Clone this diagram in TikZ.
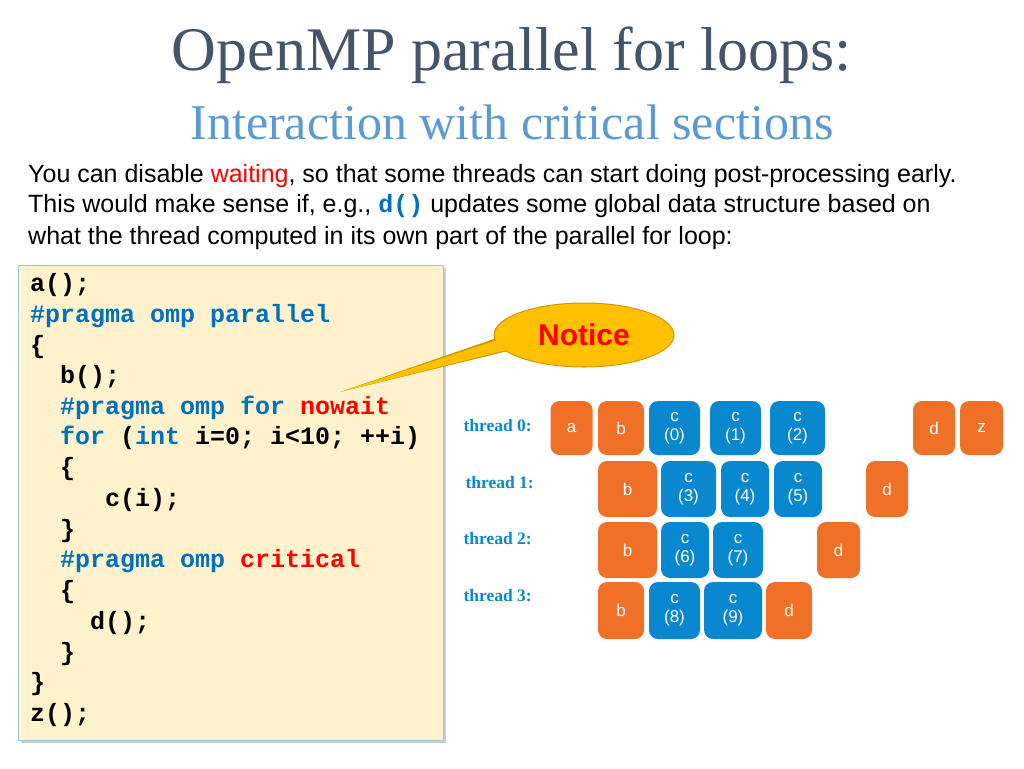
\documentclass[tikz,border=0pt]{standalone}
\usepackage{fontspec}
\setmainfont{Liberation Serif}
\setsansfont{Liberation Sans}
\setmonofont{Liberation Mono}
\usetikzlibrary{shapes.geometric}
\definecolor{ttl}{HTML}{44546A}
\definecolor{sub}{HTML}{5B9BD5}
\definecolor{orng}{HTML}{F07028}
\definecolor{blu}{HTML}{0A88CF}
\definecolor{kw}{HTML}{0070C0}
\definecolor{codebg}{HTML}{FFF2CC}
\definecolor{codeln}{HTML}{9DC3E6}
\definecolor{gold}{HTML}{FFC000}
\newcommand{\kwd}[1]{\textcolor{kw}{#1}}
\newcommand{\red}[1]{\textcolor{red}{#1}}
\begin{document}
\begin{tikzpicture}[x=1pt,y=-1pt,
  tbox/.style={rounded corners=9pt,text=white,font=\sffamily\fontsize{17}{19}\selectfont,align=center,inner sep=0pt},
  ob/.style={tbox,fill=orng},
  bb/.style={tbox,fill=blu},
  lab/.style={anchor=west,text=blu,font=\bfseries\fontsize{17.5}{19}\selectfont},
  codeline/.style={anchor=west,font=\ttfamily\bfseries\fontsize{25}{27}\selectfont,inner sep=0pt}]
\useasboundingbox (0,0) rectangle (1024,768);
\node[text=ttl,font=\fontsize{62}{66}\selectfont] (title) at (512,55) {OpenMP parallel for loops:};
\node[text=sub,font=\fontsize{50}{54}\selectfont] (subt) at (512,122) {Interaction with critical sections};
\begin{scope}[every node/.style={anchor=west,font=\sffamily\fontsize{25}{28}\selectfont,inner sep=0pt}]
\node (t1) at (28,176) {You can disable \red{waiting}, so that some threads can start doing post-processing early.};
\node (t2) at (28,206) {This would make sense if, e.g., {\ttfamily\bfseries\textcolor{kw}{d()}} updates some global data structure based on};
\node (t3) at (28,238) {what the thread computed in its own part of the parallel for loop:};
\end{scope}
% code box
\fill[gray!40] (21,268) rectangle (446,743);
\draw[codeln,fill=codebg] (18,265) rectangle (443,740);
\node[codeline] (l1) at (30,285) {a();};
\node[codeline] (l2) at (30,316) {\kwd{\#pragma omp parallel}};
\node[codeline] (l3) at (30,347) {\{};
\node[codeline] (l4) at (30,377) {\ \ b();};
\node[codeline] (l5) at (30,408) {\ \ \kwd{\#pragma omp for} \red{nowait}};
\node[codeline] (l6) at (30,438) {\ \ \kwd{for} (\kwd{int} i=0; i<10; ++i)};
\node[codeline] (l7) at (30,469) {\ \ \{};
\node[codeline] (l8) at (30,500) {\ \ \ \ \ c(i);};
\node[codeline] (l9) at (30,531) {\ \ \}};
\node[codeline] (l10) at (30,561) {\ \ \kwd{\#pragma omp} \red{critical}};
\node[codeline] (l11) at (30,592) {\ \ \{};
\node[codeline] (l12) at (30,623) {\ \ \ \ d();};
\node[codeline] (l13) at (30,654) {\ \ \}};
\node[codeline] (l14) at (30,684) {\}};
\node[codeline] (l15) at (30,715) {z();};
% callout
\coordinate (tip) at (340,392);
\fill[gold!80!black] (tip) -- (512,350) -- (520,330) -- cycle;
\node[ellipse,fill=gold,draw=gold!80!black,line width=1pt,minimum width=180,minimum height=64] (notice) at (584,335) {};
\fill[gold] (tip) -- (514,348) -- (522,332) -- cycle;
\node[text=red,font=\sffamily\bfseries\fontsize{30}{32}\selectfont] (ntxt) at (584,335) {Notice};
% threads
\node[lab] (th0) at (460,426) {thread 0:};
\node[lab] (th1) at (462,483) {thread 1:};
\node[lab] (th2) at (460,539) {thread 2:};
\node[lab] (th3) at (460,596) {thread 3:};
% row 0
\node[ob,minimum width=42,minimum height=54] (a0) at (571.5,428) {a};
\node[ob,minimum width=46,minimum height=54] (b0) at (621,428) {b};
\node[bb,minimum width=51,minimum height=54] (c0) at (674.5,428) {c\\(0)};
\node[bb,minimum width=51,minimum height=54] (c1) at (735.5,428) {c\\(1)};
\node[bb,minimum width=55,minimum height=54] (c2) at (797.5,428) {c\\(2)};
\node[ob,minimum width=42,minimum height=54] (d0) at (934,428) {d};
\node[ob,minimum width=43,minimum height=54] (z0) at (981.5,428) {z};
% row 1
\node[ob,minimum width=59,minimum height=56] (b1) at (627.5,489) {b};
\node[bb,minimum width=55,minimum height=56] (c3) at (688.5,489) {c\\(3)};
\node[bb,minimum width=48,minimum height=56] (c4) at (745,489) {c\\(4)};
\node[bb,minimum width=48,minimum height=56] (c5) at (798,489) {c\\(5)};
\node[ob,minimum width=42,minimum height=56] (d1) at (887,489) {d};
% row 2
\node[ob,minimum width=59,minimum height=56] (b2) at (627.5,550) {b};
\node[bb,minimum width=48,minimum height=56] (c6) at (685,550) {c\\(6)};
\node[bb,minimum width=50,minimum height=56] (c7) at (738,550) {c\\(7)};
\node[ob,minimum width=43,minimum height=56] (d2) at (838.5,550) {d};
% row 3
\node[ob,minimum width=46,minimum height=57] (b3) at (621,610.5) {b};
\node[bb,minimum width=51,minimum height=57] (c8) at (674.5,610.5) {c\\(8)};
\node[bb,minimum width=58,minimum height=57] (c9) at (733,610.5) {c\\(9)};
\node[ob,minimum width=46,minimum height=57] (d3) at (789,610.5) {d};
\end{tikzpicture}
\end{document}
